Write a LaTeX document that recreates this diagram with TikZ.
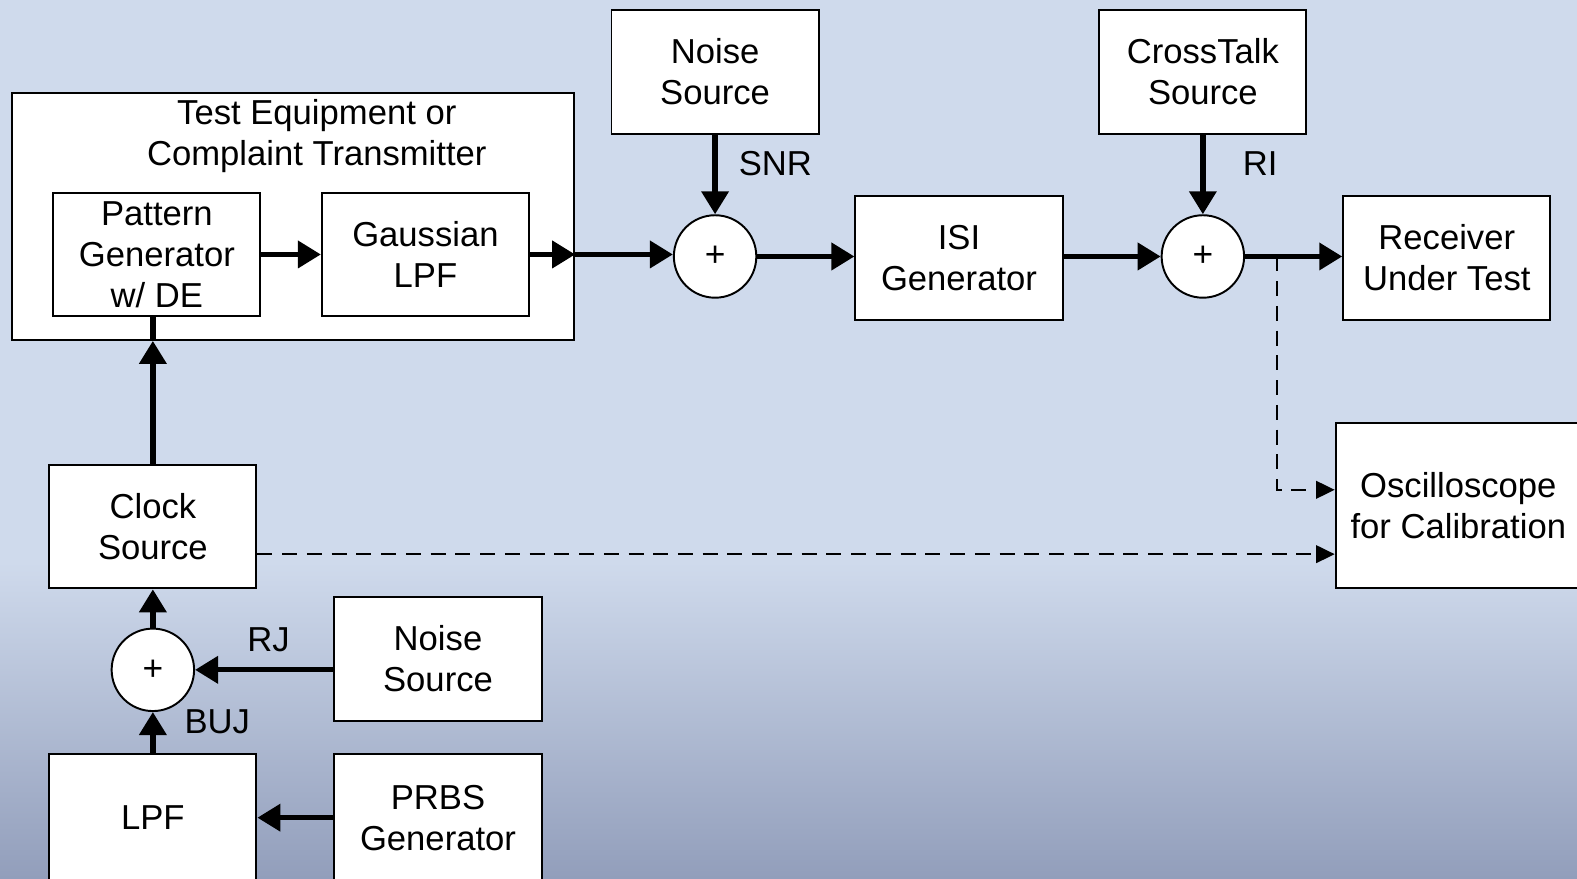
\documentclass[tikz,border=0pt]{standalone}
\usepackage{fontspec}
\setmainfont{Liberation Sans}
\usetikzlibrary{arrows.meta,positioning}
\definecolor{bgtop}{RGB}{207,218,236}
\definecolor{bgbot}{RGB}{146,158,187}
\tikzset{
	blk/.style={draw, line width=1.1pt, fill=white, align=center, inner sep=2pt,
		minimum width=4.12cm, minimum height=2.46cm, font=\fontsize{19.6}{23.3}\selectfont},
	sum/.style={draw, circle, line width=1.1pt, fill=white, minimum size=1.64cm,
		inner sep=0pt, font=\fontsize{20}{22}\selectfont},
	lbl/.style={align=center, font=\fontsize{19.6}{23.3}\selectfont},
	flow/.style={line width=3pt, -{Triangle[length=13pt,width=15pt]}},
	wire/.style={line width=3pt},
	probe/.style={line width=1pt, dash pattern=on 8.5pt off 5.5pt, -{Triangle[length=10.5pt,width=10pt]}}
}
\begin{document}
\begin{tikzpicture}[x=0.02cm, y=-0.02cm]
	\clip (0,0) rectangle (1568,873);
	\fill[bgtop] (0,0) rectangle (1568,560);
	\shade[top color=bgtop, bottom color=bgbot] (0,559) rectangle (1568,873);

	% transmitter
	\node[blk, minimum width=11.18cm, minimum height=4.92cm] (te) at (291.5,215) {};
	\node[lbl] (tetitle) at (315,135) {Test Equipment or\\Complaint Transmitter};
	\node[blk] (pat) at (156,253) {Pattern\\Generator\\w/ DE};
	\node[blk] (gauss) at (423,253) {Gaussian\\LPF};

	% channel
	\node[sum] (sum1) at (711,255) {+};
	\node[blk] (noise1) at (711,71.5) {Noise\\Source};
	\node[lbl] (snr) at (771,163) {SNR};
	\node[blk] (isi) at (953.5,256.5) {ISI\\Generator};
	\node[sum] (sum2) at (1196,255) {+};
	\node[blk] (xtalk) at (1196,71.5) {CrossTalk\\Source};
	\node[lbl] (ri) at (1253,163) {RI};
	\node[blk] (rx) at (1438.5,256.5) {Receiver\\Under Test};
	\node[blk, minimum width=4.88cm, minimum height=3.28cm] (osc) at (1450,503) {Oscilloscope\\for Calibration};

	% clock path
	\node[blk] (clock) at (152,523.5) {Clock\\Source};
	\node[sum] (sum3) at (152,666) {+};
	\node[blk] (noise2) at (435.5,655) {Noise\\Source};
	\node[lbl] (rj) at (267,636) {RJ};
	\node[lbl] (buj) at (216,718) {BUJ};
	\node[blk, minimum height=2.52cm] (lpf) at (152,813) {LPF};
	\node[blk, minimum height=2.52cm] (prbs) at (435.5,813) {PRBS\\Generator};

	\draw[flow] (pat) -- (gauss);
	\draw[flow] (gauss.east) -- (te.east |- gauss.east);
	\draw[flow] (te.east |- gauss.east) -- (sum1.west |- gauss.east);
	\draw[flow] (noise1) -- (sum1);
	\draw[flow] (sum1) -- (sum1 -| isi.west);
	\draw[flow] (isi.east |- sum2) -- (sum2);
	\draw[flow] (xtalk) -- (sum2);
	\draw[flow] (sum2) -- (sum2 -| rx.west);

	\coordinate (tap) at (1270,255);
	\coordinate (oscin) at ([yshift=0.32cm]osc.west);
	\coordinate (clkin) at ([yshift=-0.96cm]osc.west);
	\draw[probe] (tap) |- (oscin);
	\draw[probe] (clock.east |- clkin) -- (clkin);

	\draw[wire] (clock.north |- pat.south) -- (clock.north |- te.south);
	\draw[flow] (clock) -- (clock.north |- te.south);
	\draw[flow] (sum3) -- (clock);
	\draw[flow] (noise2.west |- sum3) -- (sum3);
	\draw[flow] (lpf) -- (sum3);
	\draw[flow] (prbs) -- (lpf);
\end{tikzpicture}
\end{document}
